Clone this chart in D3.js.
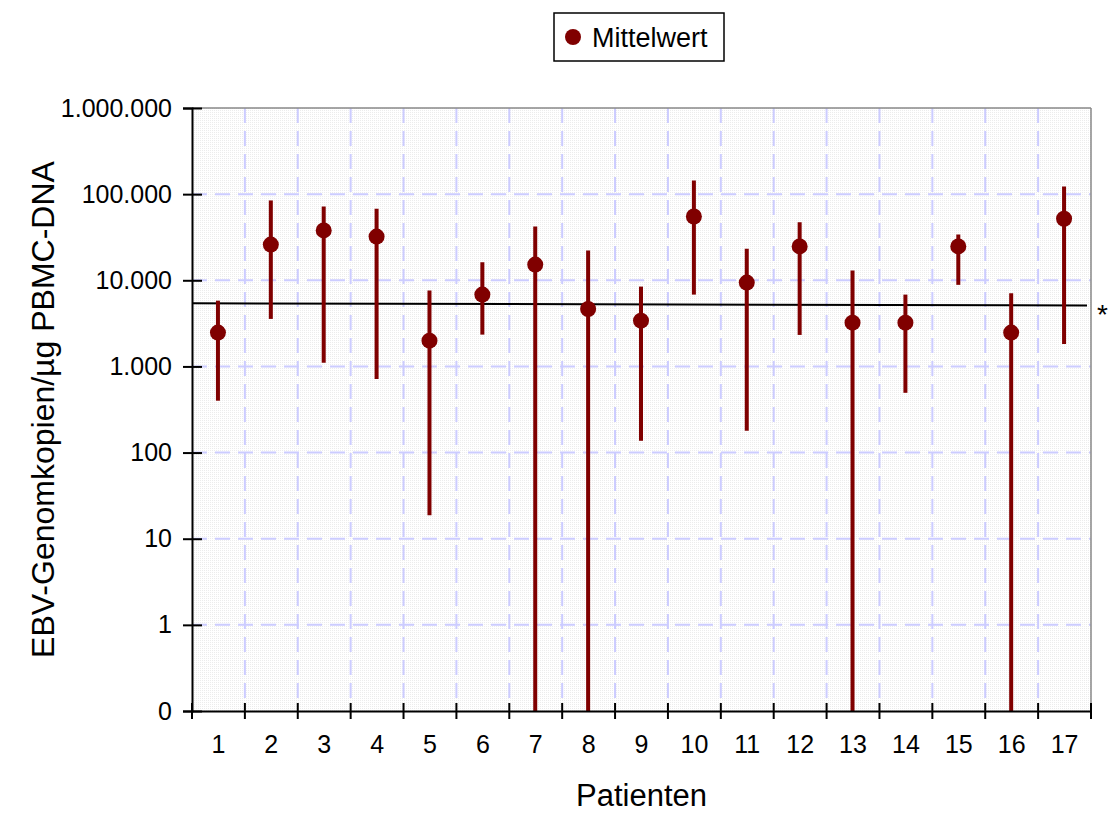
<!doctype html>
<html lang="de">
<head>
<meta charset="utf-8">
<script src="https://d3js.org/d3.v7.min.js"></script>
<style>
  body { margin: 0; background: #fff; }
  svg text { font-family: "Liberation Sans", Arial, sans-serif; fill: #000; }
</style>
</head>
<body>
<div id="chart"></div>
<script>
// data
var patients = ["1","2","3","4","5","6","7","8","9","10","11","12","13","14","15","16","17"];
var means = [2470, 26000, 37900, 32200, 1990, 6820, 15200, 4640, 3400, 55000, 9400, 24700, 3220, 3220, 24700, 2470, 51800];
var upper = [5800, 84500, 72000, 67600, 7590, 16200, 42100, 22100, 8450, 144000, 23200, 47200, 12970, 6820, 34000, 7060, 123000];
var lower = [400, 3560, 1100, 713, 18.7, 2340, 0, 0, 137, 6820, 179, 2320, 0, 494, 8850, 0, 1820];
var refLine = [5400, 5100];
var yTicks = [0.1, 1, 10, 100, 1e3, 1e4, 1e5, 1e6];
var yLabels = ["0", "1", "10", "100", "1.000", "10.000", "100.000", "1.000.000"];

var W = 1114, H = 814;
var margin = {top: 108, right: 23, bottom: 103, left: 192};
var width = W - margin.left - margin.right,
    height = H - margin.top - margin.bottom;
var red = "#800000";

var svg = d3.select("#chart").append("svg")
    .attr("width", W).attr("height", H);

// dotted grey plot background
var defs = svg.append("defs");
var pat = defs.append("pattern").attr("id", "dots")
    .attr("width", 2).attr("height", 2).attr("patternUnits", "userSpaceOnUse");
pat.append("rect").attr("width", 2).attr("height", 2).attr("fill", "#fff");
pat.append("rect").attr("width", 1).attr("height", 1).attr("fill", "#ececec");

var g = svg.append("g").attr("transform", "translate(" + margin.left + "," + margin.top + ")");

var x = d3.scaleBand().domain(patients).range([0, width]);
var y = d3.scaleLog().domain([0.1, 1e6]).range([height, 0]);
function yv(v) { return y(Math.max(v, 0.1)); }

g.append("rect").attr("width", width).attr("height", height).attr("fill", "url(#dots)");

// grid
g.selectAll(".hgrid").data(yTicks.slice(1, -1)).enter().append("line")
    .attr("x1", 0).attr("x2", width)
    .attr("y1", function(d) { return y(d); }).attr("y2", function(d) { return y(d); })
    .attr("stroke", "#ccccff").attr("stroke-width", 2).attr("stroke-dasharray", "15,8");
g.selectAll(".vgrid").data(patients.slice(1)).enter().append("line")
    .attr("x1", function(d) { return x(d); }).attr("x2", function(d) { return x(d); })
    .attr("y1", 0).attr("y2", height - 8)
    .attr("stroke", "#ccccff").attr("stroke-width", 2).attr("stroke-dasharray", "15,8");

// top and right frame
g.append("line").attr("x1", 0).attr("x2", width).attr("y1", 0).attr("y2", 0)
    .attr("stroke", "#888").attr("stroke-width", 1.5);
g.append("line").attr("x1", width).attr("x2", width).attr("y1", 0).attr("y2", height)
    .attr("stroke", "#888").attr("stroke-width", 1.5);

// reference line
g.append("line")
    .attr("x1", 0).attr("x2", width - 4)
    .attr("y1", y(refLine[0])).attr("y2", y(refLine[1]))
    .attr("stroke", "#000").attr("stroke-width", 2);
svg.append("text").attr("x", 1097).attr("y", margin.top + y(refLine[1]) + 19)
    .style("font-size", "28px").text("*");

// range bars and means
var cx = function(i) { return x(patients[i]) + x.bandwidth() / 2 - 0.5; };
g.selectAll(".bar").data(means).enter().append("line")
    .attr("x1", function(d, i) { return cx(i); }).attr("x2", function(d, i) { return cx(i); })
    .attr("y1", function(d, i) { return yv(upper[i]); })
    .attr("y2", function(d, i) { return yv(lower[i]); })
    .attr("stroke", red).attr("stroke-width", 4);
g.selectAll(".dot").data(means).enter().append("circle")
    .attr("cx", function(d, i) { return cx(i); })
    .attr("cy", function(d) { return y(d); })
    .attr("r", 8).attr("fill", red);

// y axis
var yAxis = g.append("g")
    .call(d3.axisLeft(y).tickValues(yTicks).tickFormat(function(d, i) { return yLabels[i]; })
        .tickSize(9).tickPadding(11));
yAxis.select(".domain").attr("stroke-width", 2);
yAxis.selectAll(".tick line").attr("x1", 10).attr("stroke-width", 2);
yAxis.selectAll(".tick text").style("font-size", "25px");

// x axis
var xAxis = g.append("g").attr("transform", "translate(0," + height + ")")
    .call(d3.axisBottom(x).tickSize(0).tickPadding(24));
xAxis.select(".domain").attr("stroke-width", 2);
xAxis.selectAll(".tick text").style("font-size", "25px");
var bounds = patients.map(function(d) { return x(d); }).concat([width]);
xAxis.selectAll(".bound").data(bounds).enter().append("line")
    .attr("x1", function(d) { return d; }).attr("x2", function(d) { return d; })
    .attr("y1", -8).attr("y2", 8)
    .attr("stroke", "#000").attr("stroke-width", 2);

// axis titles
svg.append("text")
    .attr("transform", "translate(54," + (margin.top + height / 2) + ") rotate(-90)")
    .attr("text-anchor", "middle").style("font-size", "32px")
    .text("EBV-Genomkopien/µg PBMC-DNA");
svg.append("text")
    .attr("x", margin.left + width / 2).attr("y", 806)
    .attr("text-anchor", "middle").style("font-size", "31px")
    .text("Patienten");

// legend
var leg = svg.append("g").attr("transform", "translate(554,13)");
leg.append("rect").attr("width", 170).attr("height", 48)
    .attr("fill", "#fff").attr("stroke", "#000").attr("stroke-width", 1.5);
leg.append("circle").attr("cx", 19).attr("cy", 24).attr("r", 8).attr("fill", red);
leg.append("text").attr("x", 38).attr("y", 34).style("font-size", "27px").text("Mittelwert");
</script>
</body>
</html>
